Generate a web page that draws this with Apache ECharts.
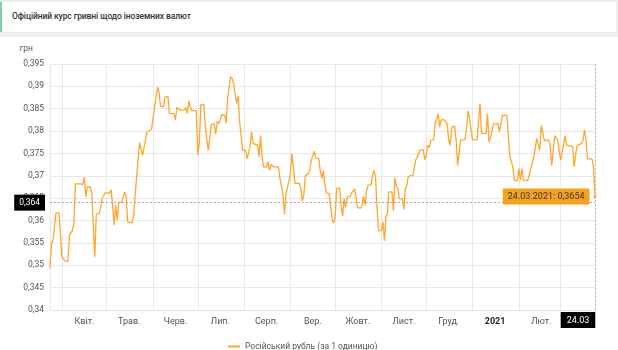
<!DOCTYPE html>
<html><head><meta charset="utf-8">
<script src="https://cdn.jsdelivr.net/npm/echarts@6/dist/echarts.min.js"></script>
<style>
html,body{margin:0;padding:0;width:618px;height:350px;background:#fff;overflow:hidden;font-family:Roboto,sans-serif}
#hdr{position:absolute;left:0;top:0;width:618px;height:37px;background:#efefef}
#bar{position:absolute;left:0;top:2px;width:616px;height:30px;background:#fff;border-left:2px solid #7fd3a2;box-sizing:border-box}
#bar span{position:absolute;left:10px;top:9px;font-size:8.5px;font-weight:500;color:#333;font-family:Roboto,sans-serif;letter-spacing:-0.1px}
#chart{position:absolute;left:0;top:0;width:618px;height:350px}
</style></head>
<body>
<div id="hdr"><div id="bar"><span>Офіційний курс гривні щодо іноземних валют</span></div></div>
<div id="chart"></div>
<script>
const dates = [
'2020-03-24','2020-03-25','2020-03-26','2020-03-28','2020-03-30','2020-03-31',
'2020-04-01','2020-04-02','2020-04-03','2020-04-05','2020-04-06','2020-04-07','2020-04-08','2020-04-09','2020-04-10','2020-04-13','2020-04-14','2020-04-15','2020-04-16','2020-04-17','2020-04-18','2020-04-20','2020-04-21','2020-04-23','2020-04-24','2020-04-26','2020-04-27','2020-04-28','2020-04-29','2020-04-30',
'2020-05-03','2020-05-04','2020-05-06','2020-05-07','2020-05-08','2020-05-09','2020-05-11','2020-05-13','2020-05-14','2020-05-15','2020-05-18','2020-05-19','2020-05-20','2020-05-21','2020-05-23','2020-05-24','2020-05-25','2020-05-26','2020-05-28','2020-05-29','2020-05-31',
'2020-06-02','2020-06-04','2020-06-05','2020-06-06','2020-06-08','2020-06-09','2020-06-11','2020-06-12','2020-06-15','2020-06-16','2020-06-17','2020-06-19','2020-06-22','2020-06-23','2020-06-24','2020-06-25','2020-06-26','2020-06-27','2020-06-30',
'2020-07-01','2020-07-02','2020-07-03','2020-07-05','2020-07-06','2020-07-08','2020-07-09','2020-07-10','2020-07-12','2020-07-13','2020-07-14','2020-07-15','2020-07-16','2020-07-17','2020-07-19','2020-07-20','2020-07-21','2020-07-23','2020-07-24','2020-07-25','2020-07-26','2020-07-27','2020-07-28','2020-07-29','2020-07-30','2020-07-31',
'2020-08-02','2020-08-03','2020-08-05','2020-08-06','2020-08-07','2020-08-08','2020-08-10','2020-08-11','2020-08-12','2020-08-13','2020-08-14','2020-08-16','2020-08-17','2020-08-18','2020-08-19','2020-08-21','2020-08-24','2020-08-25','2020-08-26','2020-08-27','2020-08-28','2020-08-29','2020-08-30',
'2020-09-01','2020-09-02','2020-09-03','2020-09-04','2020-09-07','2020-09-08','2020-09-09','2020-09-10','2020-09-11','2020-09-13','2020-09-14','2020-09-15','2020-09-16','2020-09-17','2020-09-18','2020-09-20','2020-09-21','2020-09-22','2020-09-23','2020-09-24','2020-09-25','2020-09-27','2020-09-28','2020-09-29','2020-09-30',
'2020-10-01','2020-10-02','2020-10-04','2020-10-05','2020-10-06','2020-10-07','2020-10-08','2020-10-09','2020-10-11','2020-10-12','2020-10-13','2020-10-14','2020-10-15','2020-10-16','2020-10-18','2020-10-19','2020-10-20','2020-10-21','2020-10-22','2020-10-23','2020-10-25','2020-10-26','2020-10-27','2020-10-28','2020-10-29','2020-10-30',
'2020-11-01','2020-11-02','2020-11-03','2020-11-04','2020-11-05','2020-11-06','2020-11-08','2020-11-09','2020-11-10','2020-11-11','2020-11-12','2020-11-13','2020-11-15','2020-11-16','2020-11-17','2020-11-18','2020-11-19','2020-11-22','2020-11-24','2020-11-25','2020-11-27','2020-11-29','2020-11-30',
'2020-12-01','2020-12-02','2020-12-03','2020-12-04','2020-12-06','2020-12-07','2020-12-08','2020-12-09','2020-12-10','2020-12-11','2020-12-13','2020-12-15','2020-12-16','2020-12-17','2020-12-18','2020-12-20','2020-12-21','2020-12-22','2020-12-24','2020-12-27','2020-12-28','2020-12-29','2020-12-30','2020-12-31',
'2021-01-01','2021-01-04','2021-01-06','2021-01-07','2021-01-10','2021-01-11','2021-01-12','2021-01-13','2021-01-15','2021-01-18','2021-01-19','2021-01-21','2021-01-24','2021-01-26','2021-01-27','2021-01-28','2021-01-29','2021-01-31',
'2021-02-01','2021-02-02','2021-02-03','2021-02-04','2021-02-07','2021-02-09','2021-02-10','2021-02-11','2021-02-13','2021-02-14','2021-02-15','2021-02-16','2021-02-18','2021-02-21','2021-02-22','2021-02-23','2021-02-25','2021-02-27','2021-02-28',
'2021-03-01','2021-03-04','2021-03-05','2021-03-09','2021-03-10','2021-03-11','2021-03-12','2021-03-15','2021-03-16','2021-03-17','2021-03-18','2021-03-19','2021-03-22','2021-03-23','2021-03-24'
];
const rubValues = [
0.3493,0.3549,0.3556,0.3617,0.3617,0.3571,
0.3519,0.3518,0.3510,0.3508,0.3567,0.3565,0.3578,0.3593,0.3682,0.3682,0.3686,0.3681,0.3697,0.3653,0.3675,0.3675,0.3660,0.3519,0.3614,0.3616,0.3630,0.3651,0.3653,0.3662,
0.3662,0.3669,0.3590,0.3634,0.3601,0.3640,0.3641,0.3664,0.3653,0.3597,0.3595,0.3610,0.3657,0.3660,0.3775,0.3777,0.3746,0.3742,0.3798,0.3801,0.3804,
0.3853,0.3898,0.3887,0.3855,0.3855,0.3876,0.3877,0.3839,0.3839,0.3825,0.3853,0.3847,0.3847,0.3853,0.3839,0.3868,0.3853,0.3846,0.3845,
0.3746,0.3772,0.3859,0.3859,0.3809,0.3757,0.3785,0.3815,0.3816,0.3793,0.3822,0.3817,0.3825,0.3836,0.3836,0.3818,0.3876,0.3922,0.3917,0.3905,0.3904,0.3862,0.3879,0.3821,0.3818,0.3758,
0.3757,0.3738,0.3766,0.3798,0.3772,0.3770,0.3769,0.3743,0.3790,0.3742,0.3720,0.3720,0.3731,0.3712,0.3725,0.3720,0.3720,0.3694,0.3690,0.3660,0.3614,0.3657,0.3659,
0.3705,0.3750,0.3720,0.3683,0.3683,0.3671,0.3644,0.3657,0.3701,0.3705,0.3712,0.3735,0.3738,0.3755,0.3740,0.3738,0.3712,0.3694,0.3712,0.3683,0.3662,0.3660,0.3630,0.3601,0.3595,
0.3608,0.3671,0.3673,0.3630,0.3610,0.3649,0.3630,0.3653,0.3654,0.3662,0.3666,0.3671,0.3675,0.3629,0.3628,0.3634,0.3654,0.3634,0.3666,0.3679,0.3679,0.3701,0.3712,0.3697,0.3630,0.3578,
0.3577,0.3597,0.3555,0.3608,0.3617,0.3664,0.3664,0.3622,0.3696,0.3677,0.3671,0.3649,0.3649,0.3625,0.3671,0.3679,0.3699,0.3701,0.3736,0.3738,0.3758,0.3758,0.3736,
0.3746,0.3768,0.3763,0.3779,0.3781,0.3820,0.3827,0.3839,0.3809,0.3825,0.3825,0.3816,0.3779,0.3768,0.3809,0.3811,0.3780,0.3723,0.3780,0.3781,0.3809,0.3845,0.3827,0.3830,
0.3781,0.3781,0.3861,0.3795,0.3795,0.3839,0.3775,0.3786,0.3816,0.3816,0.3798,0.3835,0.3835,0.3742,0.3738,0.3720,0.3690,0.3689,
0.3716,0.3690,0.3716,0.3690,0.3690,0.3716,0.3720,0.3742,0.3783,0.3783,0.3757,0.3813,0.3779,0.3780,0.3766,0.3723,0.3790,0.3780,0.3777,
0.3735,0.3790,0.3768,0.3766,0.3720,0.3746,0.3768,0.3772,0.3781,0.3803,0.3780,0.3738,0.3738,0.3720,0.3654
];
const monthLabels = ['2021','Лют.','Бер.','Квіт.','Трав.','Черв.','Лип.','Серп.','Вер.','Жовт.','Лист.','Груд.'];
const seriesName = 'Російський рубль (за 1 одиницю)';
const yUnit = 'грн';
const yMin = 0.34, yMax = 0.395, yStep = 0.005;
const cursorValue = 0.364;
const cursorDateLabel = '24.03';

const fmtNum = v => parseFloat(v.toFixed(4)).toString().replace('.', ',');
const lastDate = dates[dates.length-1];
const lastVal = rubValues[rubValues.length-1];
const lastDateTxt = lastDate.split('-').reverse().join('.');
const FONT = 'Roboto';
const LINE = '#ffa62b';

const chart = echarts.init(document.getElementById('chart'), null, {renderer:'canvas'});
chart.setOption({
  animation:false,
  textStyle:{fontFamily:FONT},
  grid:{left:50,right:23,top:64,bottom:40},
  legend:{
    left:223, top:337, icon:'rect', itemWidth:12, itemHeight:2, itemGap:10,
    textStyle:{fontFamily:FONT,fontSize:8.5,color:'#555'},
    data:[seriesName]
  },
  xAxis:{
    type:'time', min:dates[0], max:lastDate,
    minInterval:28*86400000, maxInterval:31*86400000, splitNumber:12,
    axisLine:{show:true,lineStyle:{color:'#e4e4e4'}},
    axisTick:{show:false},
    splitLine:{show:true,lineStyle:{color:'#e8e8e8',width:1}},
    axisLabel:{
      margin:7, showMinLabel:false, showMaxLabel:false, hideOverlap:false,
      formatter:function(v){
        const d = new Date(v);
        const m = d.getMonth();
        if (d.getFullYear()===2021 && m===2) return '';
        if (m===0) return '{b|'+monthLabels[0]+'}';
        return '{a|'+monthLabels[m]+'}';
      },
      rich:{
        a:{fontFamily:FONT,fontSize:9,color:'#555',padding:[0,0,0,45]},
        b:{fontFamily:FONT,fontSize:9,color:'#222',fontWeight:'bold',padding:[0,0,0,45]}
      }
    }
  },
  yAxis:{
    type:'value', min:yMin, max:yMax, interval:yStep,
    name:yUnit, nameLocation:'end', nameGap:11,
    nameTextStyle:{fontFamily:FONT,fontSize:8.5,color:'#555',align:'right',padding:[0,17,0,0]},
    axisLine:{show:false}, axisTick:{show:false},
    splitLine:{lineStyle:{color:'#e8e8e8',width:1}},
    axisLabel:{margin:6,fontFamily:FONT,fontSize:8.5,color:'#555',formatter:v=>fmtNum(v)}
  },
  series:[{
    name:seriesName, type:'line', showSymbol:false, smooth:false,
    data:dates.map((d,i)=>[d,rubValues[i]]),
    lineStyle:{color:LINE,width:1.3}, itemStyle:{color:LINE},
    markLine:{
      silent:true, symbol:'none', animation:false, precision:4,
      data:[
        {yAxis:cursorValue, lineStyle:{color:'#aaa',type:[2,2],width:1},
         label:{show:true,position:'start',distance:5,formatter:fmtNum(cursorValue),
           backgroundColor:'#000',color:'#fff',fontFamily:FONT,fontSize:8.5,padding:[4,5,3,5]}},
        {xAxis:lastDate, lineStyle:{color:'#bbb',type:[2,2],width:1},
         label:{show:true,position:'start',distance:2,formatter:'{a|'+cursorDateLabel+'}',
           padding:[0,34,0,0],
           rich:{a:{backgroundColor:'#000',color:'#fff',fontFamily:FONT,fontSize:9,padding:[4,6,3,6]}}}}
      ]
    },
    markPoint:{
      silent:true, symbol:'circle', symbolSize:3,
      itemStyle:{color:LINE},
      data:[{coord:[lastDate,lastVal],
        label:{show:true,position:'left',distance:4,
          formatter:lastDateTxt+': '+fmtNum(lastVal),
          backgroundColor:'#f7a21b',color:'#333',fontFamily:FONT,fontSize:9,
          padding:[4,5,3,5],borderRadius:1}}]
    }
  }]
});
</script>
</body></html>
